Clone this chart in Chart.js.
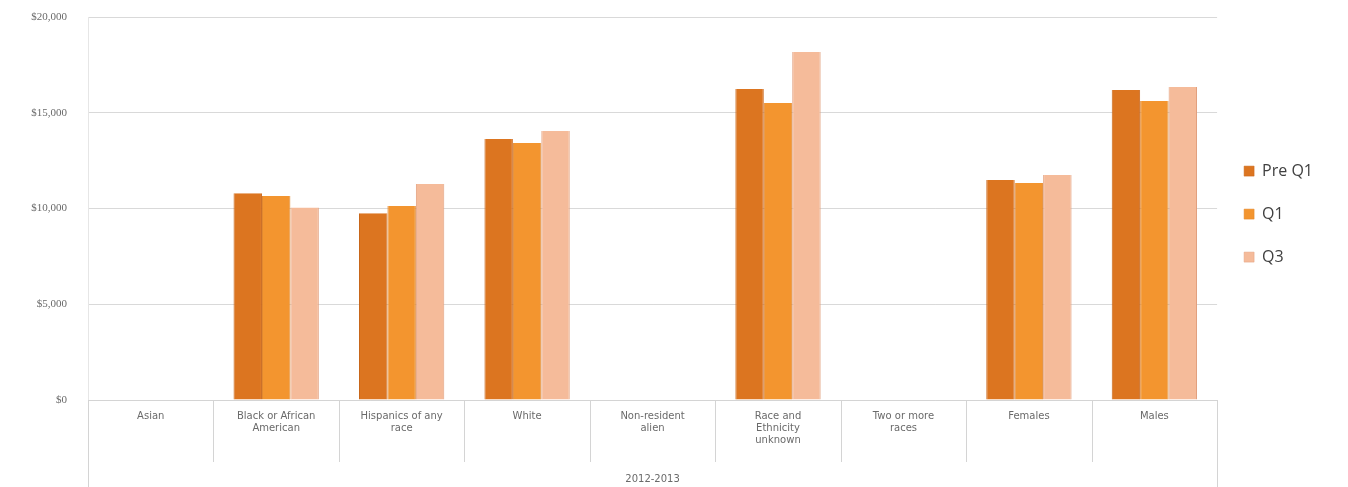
<!DOCTYPE html>
<html lang="en">
<head>
<meta charset="UTF-8">
<title>2012-2013</title>
<script src="https://cdn.jsdelivr.net/npm/chart.js"></script>
<style>
  html, body { margin: 0; padding: 0; background: #ffffff; }
  #wrap { width: 1348px; height: 487px; position: relative; }
</style>
</head>
<body>
<div id="wrap"><canvas id="chart"></canvas></div>
<script>
// categories along the x axis
const categories = [
    'Asian',
    ['Black or African', 'American'],
    ['Hispanics of any', 'race'],
    'White',
    ['Non-resident', 'alien'],
    ['Race and', 'Ethnicity', 'unknown'],
    ['Two or more', 'races'],
    'Females',
    'Males'
];
const groupLabel = '2012-2013';

// series values (empty groups have no bars)
const preQ1 = [null, 10800, 9750, 13630, null, 16240, null, 11490, 16190];
const q1    = [null, 10650, 10130, 13420, null, 15510, null, 11330, 15610];
const q3    = [null, 10050, 11280, 14050, null, 18170, null, 11750, 16340];

// y axis ticks
const yTicks = [0, 5000, 10000, 15000, 20000];

// separators between the category cells under the axis
const cellLines = {
    id: 'cellLines',
    afterDraw(chart) {
        const x = chart.scales.x;
        const { ctx, chartArea } = chart;
        const n = chart.data.labels.length;
        ctx.save();
        ctx.strokeStyle = '#d4d4d4';
        ctx.lineWidth = 1;
        for (let i = 0; i <= n; i++) {
            const px = Math.round(x.getPixelForValue(i - 0.5)) + 0.5;
            const outer = (i === 0 || i === n);
            ctx.beginPath();
            ctx.moveTo(px, chartArea.bottom);
            ctx.lineTo(px, outer ? chart.height : chartArea.bottom + 62);
            ctx.stroke();
        }
        ctx.restore();
    }
};

const ctx = document.getElementById('chart').getContext('2d');
const chart = new Chart(ctx, {
    type: 'bar',
    data: {
        labels: categories,
        datasets: [
            { label: 'Pre Q1', data: preQ1, backgroundColor: '#dc7520', borderColor: '#c8661a', borderWidth: { left: 1, right: 1 } },
            { label: 'Q1', data: q1, backgroundColor: '#f3952f', borderColor: '#e0852a', borderWidth: { left: 1, right: 1 } },
            { label: 'Q3', data: q3, backgroundColor: '#f5bb9a', borderColor: '#e2a07e', borderWidth: { left: 1, right: 1 } }
        ]
    },
    plugins: [cellLines],
    options: {
        responsive: true,
        maintainAspectRatio: false,
        animation: false,
        layout: { padding: { top: 17, left: 0, right: 25, bottom: 0 } },
        datasets: {
            bar: { categoryPercentage: 0.68, barPercentage: 1.0 }
        },
        plugins: {
            tooltip: { enabled: false },
            legend: {
                position: 'right',
                fullSize: false,
                title: { display: true, text: '', font: { size: 1 }, padding: { top: 0, bottom: 10 } },
                labels: {
                    boxWidth: 10,
                    boxHeight: 10,
                    padding: 27,
                    color: '#404040',
                    font: { family: 'Open Sans', size: 16 }
                }
            }
        },
        scales: {
            x: {
                afterFit: s => { s.height = 87; },
                grid: { offset: true, drawOnChartArea: false, drawTicks: false },
                border: { color: '#d4d4d4' },
                ticks: {
                    padding: 10,
                    maxRotation: 0,
                    autoSkip: false,
                    color: '#6a6a6a',
                    font: { family: 'DejaVu Sans', size: 10 }
                },
                title: {
                    display: true,
                    text: groupLabel,
                    color: '#6a6a6a',
                    padding: { top: 0, bottom: 2 },
                    font: { family: 'DejaVu Sans', size: 10 }
                }
            },
            y: {
                min: 0,
                max: 20000,
                afterFit: s => { s.width = 88; s.paddingTop = 0; },
                afterBuildTicks: axis => { axis.ticks = yTicks.map(v => ({ value: v })); },
                grid: { color: '#d9d9d9', drawTicks: false },
                border: { color: '#e6e6e6' },
                ticks: {
                    padding: 21,
                    color: '#6a6a6a',
                    font: { family: 'Liberation Serif', size: 11 },
                    callback: v => '$' + v.toLocaleString('en-US')
                }
            }
        }
    }
});
</script>
</body>
</html>
